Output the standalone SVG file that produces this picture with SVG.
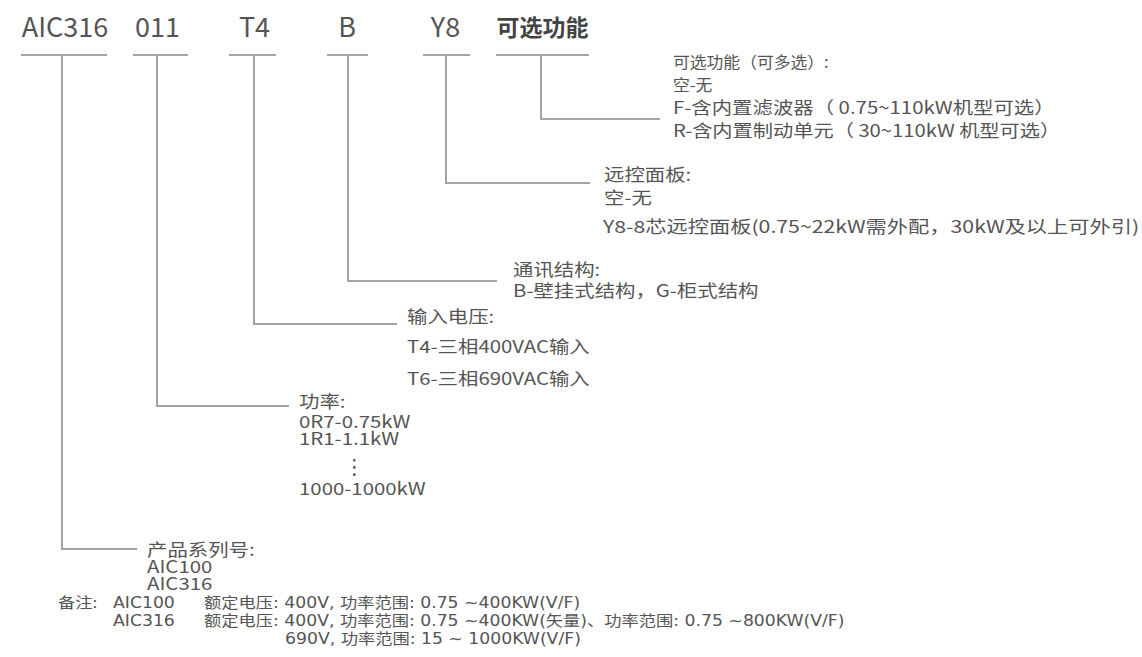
<svg xmlns="http://www.w3.org/2000/svg" width="1142" height="657" viewBox="0 0 1142 657">
<style>
  .hd { font-family: "Noto Sans CJK SC", sans-serif; font-size: 27px; fill: #555; text-anchor: middle; }
  .hdb { font-family: "Noto Sans CJK SC", sans-serif; font-size: 23px; font-weight: bold; fill: #444; text-anchor: middle; }
  .t { font-family: "Noto Sans CJK SC", sans-serif; font-size: 17px; fill: #555; }
  .s { font-family: "Noto Sans CJK SC", sans-serif; font-size: 16px; fill: #555; }
  .n { font-family: "DejaVu Sans", "Noto Sans CJK SC", sans-serif; font-size: 15px; fill: #555; }
  .nc { font-family: "Noto Sans CJK SC", sans-serif; font-size: 15px; fill: #555; }
  .dots { font-family: "DejaVu Sans", sans-serif; font-size: 21px; fill: #555; }
  .ln { fill: none; stroke: #a3a3a3; stroke-width: 2; }
</style>
<rect width="1142" height="657" fill="#fff"/>

<g id="header">
  <text class="hd" x="65" y="37">AIC316</text>
  <text class="hd" x="157.5" y="37">011</text>
  <text class="hd" x="254.5" y="37">T4</text>
  <text class="hd" x="347" y="37">B</text>
  <text class="hd" x="445.5" y="37">Y8</text>
  <text class="hdb" x="542.5" y="36">可选功能</text>
</g>

<g id="connectors">
  <path class="ln" d="M21 55H107 M133 55H188 M229 55H276 M327 55H368 M423 55H470 M496 55H589"/>
  <path class="ln" d="M541 55V119H660"/>
  <path class="ln" d="M446 55V183H590"/>
  <path class="ln" d="M348 55V281H497"/>
  <path class="ln" d="M254 55V324H397"/>
  <path class="ln" d="M157 55V406H289"/>
  <path class="ln" d="M62 55V549H137"/>
</g>

<g id="optional">
  <text class="s" transform="translate(673 68) scale(1.05 1)">可选功能（可多选）:</text>
  <text class="s" transform="translate(673 91) scale(1.05 1)">空-无</text>
  <text class="t" transform="translate(673 114) scale(1.2 1)">F-含内置滤波器（ 0.75~110kW机型可选）</text>
  <text class="t" transform="translate(673 137) scale(1.19 1)">R-含内置制动单元（ 30~110kW 机型可选）</text>
</g>

<g id="remote">
  <text class="t" transform="translate(604 181) scale(1.2 1)">远控面板:</text>
  <text class="t" transform="translate(604 204) scale(1.2 1)">空-无</text>
  <text class="t" transform="translate(603 233) scale(1.25 1)">Y8-8芯远控面板(0.75~22kW需外配，30kW及以上可外引)</text>
</g>

<g id="structure">
  <text class="t" transform="translate(513 276) scale(1.2 1)">通讯结构:</text>
  <text class="t" transform="translate(513 297) scale(1.2 1)">B-壁挂式结构，G-柜式结构</text>
</g>

<g id="voltage">
  <text class="t" transform="translate(407 323) scale(1.2 1)">输入电压:</text>
  <text class="t" transform="translate(407 353) scale(1.2 1)">T4-三相400VAC输入</text>
  <text class="t" transform="translate(407 385) scale(1.2 1)">T6-三相690VAC输入</text>
</g>

<g id="power">
  <text class="t" transform="translate(299 408) scale(1.2 1)">功率:</text>
  <text class="t" transform="translate(299 428) scale(1.2 1)">0R7-0.75kW</text>
  <text class="t" transform="translate(299 445) scale(1.2 1)">1R1-1.1kW</text>
  <text class="dots" x="344" y="474">⋮</text>
  <text class="t" transform="translate(299 495) scale(1.2 1)">1000-1000kW</text>
</g>

<g id="series">
  <text class="t" transform="translate(147 556) scale(1.2 1)">产品系列号:</text>
  <text class="t" transform="translate(147 573) scale(1.2 1)">AIC100</text>
  <text class="t" transform="translate(147 590) scale(1.2 1)">AIC316</text>
</g>

<g id="note">
  <text class="nc" transform="translate(58 608) scale(1.15 1)">备注:</text>
  <text class="n" transform="translate(113 608) scale(1.15 1)">AIC100</text>
  <text class="n" transform="translate(204 608) scale(1.15 1)">额定电压: 400V, 功率范围: 0.75 ~400KW(V/F)</text>
  <text class="n" transform="translate(113 626) scale(1.15 1)">AIC316</text>
  <text class="n" transform="translate(204 626) scale(1.15 1)">额定电压: 400V, 功率范围: 0.75 ~400KW(矢量)、功率范围: 0.75 ~800KW(V/F)</text>
  <text class="n" transform="translate(285 644) scale(1.15 1)">690V, 功率范围: 15 ~ 1000KW(V/F)</text>
</g>
</svg>
